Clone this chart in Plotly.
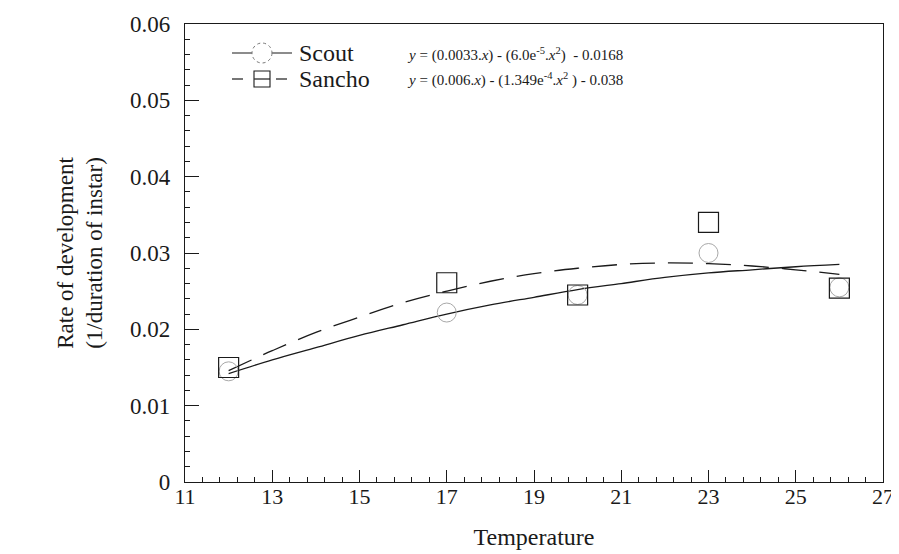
import plotly.graph_objects as go

# Observed data (temperature vs. rate of development)
temps = [12, 17, 20, 23, 26]
scout_rate = [0.0145, 0.0222, 0.0245, 0.0300, 0.0255]
sancho_rate = [0.0150, 0.0261, 0.0245, 0.0340, 0.0254]

# Fitted curves
curve_t = [12, 13, 14, 15, 16, 17, 18, 19, 20, 21, 22, 23, 24, 25, 26]
scout_fit = [0.0142, 0.0160, 0.0176, 0.0192, 0.0206, 0.0220, 0.0232, 0.0242,
             0.0252, 0.0260, 0.0268, 0.0274, 0.0278, 0.0282, 0.0285]
sancho_fit = [0.0146, 0.0172, 0.0196, 0.0216, 0.0235, 0.0250, 0.0263, 0.0273,
              0.0280, 0.0285, 0.0287, 0.0286, 0.0283, 0.0278, 0.0272]

x_ticks = [11, 13, 15, 17, 19, 21, 23, 25, 27]
y_ticks = [0, 0.01, 0.02, 0.03, 0.04, 0.05, 0.06]
y_labels = ["0", "0.01", "0.02", "0.03", "0.04", "0.05", "0.06"]

series_names = ["Scout", "Sancho"]
scout_eq = "<i>y</i> = (0.0033.<i>x</i>) - (6.0e<sup>-5</sup>.<i>x</i><sup>2</sup>)  - 0.0168"
sancho_eq = "<i>y</i> = (0.006.<i>x</i>) - (1.349e<sup>-4</sup>.<i>x</i><sup>2</sup> ) - 0.038"

SERIF = "Liberation Serif, Times New Roman, serif"
INK = "#1a1a1a"
FAINT = "#a8a8a8"

# page geometry: the page body has an 8px margin, so the figure starts at (8, 8)
OFF = 8
PAGE_W, PAGE_H = 899, 554
L, R, T, B = 185, 883, 24, 482   # plot area in page pixels
FIG_W, FIG_H = PAGE_W - OFF, PAGE_H - OFF


def px(x):
    return (x - L) / (R - L)


def py(y):
    return (B - y) / (B - T)


fig = go.Figure()

# fitted curves
fig.add_trace(go.Scatter(x=curve_t, y=scout_fit, mode="lines", showlegend=False,
                         line=dict(color=INK, width=1.3, shape="spline")))
fig.add_trace(go.Scatter(x=curve_t, y=sancho_fit, mode="lines", showlegend=False,
                         line=dict(color=INK, width=1.3, dash="25px,13px", shape="spline")))

# observed points
fig.add_trace(go.Scatter(x=temps, y=scout_rate, mode="markers", showlegend=False,
                         marker=dict(symbol="circle-open", size=19,
                                     color=FAINT, line=dict(width=1))))
fig.add_trace(go.Scatter(x=temps, y=sancho_rate, mode="markers", showlegend=False,
                         marker=dict(symbol="square-open", size=20,
                                     color=INK, line=dict(width=1.2))))

# hand-drawn legend (decoration, paper coordinates)
row1, row2 = 53, 79
shapes = [
    dict(type="line", xref="paper", yref="paper", x0=px(232), x1=px(292),
         y0=py(row1), y1=py(row1), line=dict(color=INK, width=1.2)),
    dict(type="circle", xref="paper", yref="paper", x0=px(252), x1=px(272),
         y0=py(row1 + 10), y1=py(row1 - 10), line=dict(color="#777", width=1, dash="dot"),
         fillcolor="white"),
    dict(type="line", xref="paper", yref="paper", x0=px(232), x1=px(243),
         y0=py(row2), y1=py(row2), line=dict(color=INK, width=1.2)),
    dict(type="line", xref="paper", yref="paper", x0=px(276), x1=px(287),
         y0=py(row2), y1=py(row2), line=dict(color=INK, width=1.2)),
    dict(type="line", xref="paper", yref="paper", x0=px(254), x1=px(270),
         y0=py(row2), y1=py(row2), line=dict(color=INK, width=1.2)),
    dict(type="rect", xref="paper", yref="paper", x0=px(254), x1=px(270),
         y0=py(row2 + 8), y1=py(row2 - 8), line=dict(color=INK, width=1.1)),
]
fig.update_layout(shapes=shapes)

fig.add_annotation(x=px(297), y=py(row1), xref="paper", yref="paper", text=series_names[0],
                   showarrow=False, xanchor="left", yanchor="middle",
                   font=dict(family=SERIF, size=24, color=INK))
fig.add_annotation(x=px(297), y=py(row2), xref="paper", yref="paper", text=series_names[1],
                   showarrow=False, xanchor="left", yanchor="middle",
                   font=dict(family=SERIF, size=24, color=INK))
fig.add_annotation(x=px(405), y=py(row1 + 1), xref="paper", yref="paper", text=scout_eq,
                   showarrow=False, xanchor="left", yanchor="middle",
                   font=dict(family=SERIF, size=15, color=INK))
fig.add_annotation(x=px(405), y=py(row2 + 1), xref="paper", yref="paper", text=sancho_eq,
                   showarrow=False, xanchor="left", yanchor="middle",
                   font=dict(family=SERIF, size=15, color=INK))

fig.update_layout(
    width=FIG_W, height=FIG_H,
    margin=dict(l=L - OFF, r=PAGE_W - R, t=T - OFF, b=PAGE_H - B),
    paper_bgcolor="white", plot_bgcolor="white",
    font=dict(family=SERIF, color=INK),
    showlegend=False,
    xaxis=dict(range=[11, 27], tickvals=x_ticks, ticktext=[str(v) for v in x_ticks],
               ticks="inside", ticklen=12, tickwidth=1, tickcolor=INK,
               minor=dict(dtick=0.4, tick0=11, ticks="inside", ticklen=5, tickcolor=INK),
               showline=True, linecolor=INK, linewidth=1.3, mirror=True,
               showgrid=False, zeroline=False, automargin=False,
               tickfont=dict(family=SERIF, size=22, color=INK), ticklabelstandoff=-6,
               title=dict(text="Temperature", font=dict(family=SERIF, size=24, color=INK),
                          standoff=20)),
    yaxis=dict(range=[0, 0.06], tickvals=y_ticks, ticktext=y_labels,
               ticks="inside", ticklen=14, tickwidth=1, tickcolor=INK,
               minor=dict(dtick=0.002, tick0=0, ticks="inside", ticklen=5, tickcolor=INK),
               showline=True, linecolor=INK, linewidth=1.3, mirror=True,
               showgrid=False, zeroline=False, automargin=False,
               tickfont=dict(family=SERIF, size=23, color=INK), ticklabelstandoff=9,
               title=dict(text="Rate of development<br>(1/duration of instar)",
                          font=dict(family=SERIF, size=23, color=INK), standoff=20)),
)

fig.write_html("out.html")
